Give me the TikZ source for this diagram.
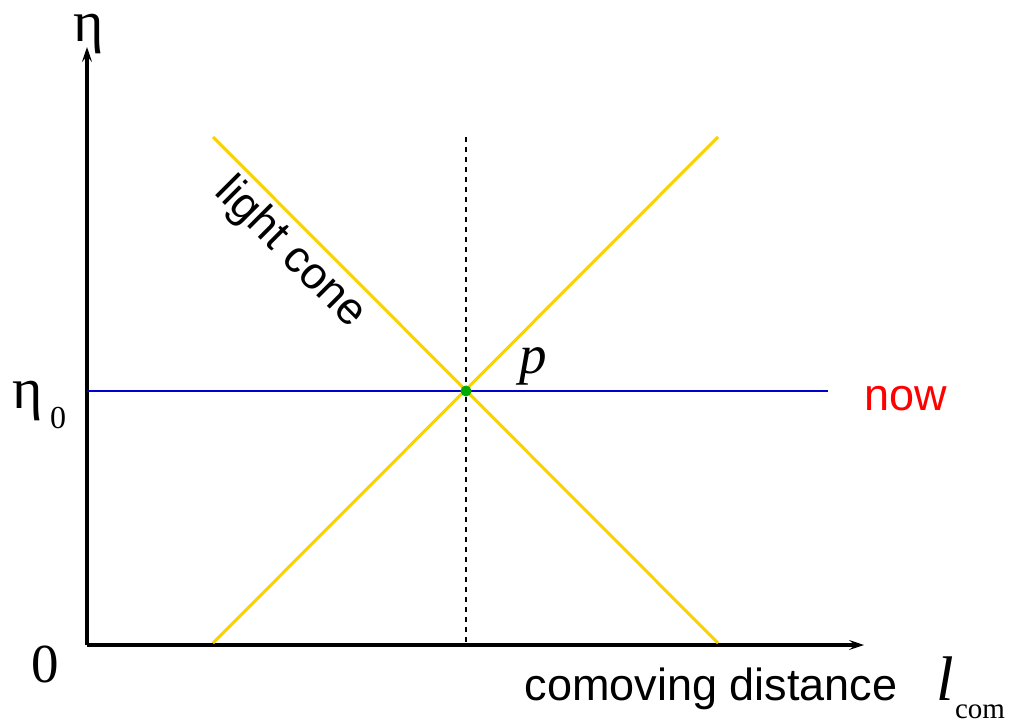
\documentclass[tikz,border=0pt]{standalone}
\usepackage{fontspec}
\setmainfont{Liberation Serif}
\newfontfamily\arialfont{Liberation Sans}
\usetikzlibrary{arrows.meta}
\definecolor{conecol}{RGB}{250,210,0}
\definecolor{nowblue}{RGB}{0,0,205}
\definecolor{ptgreen}{RGB}{0,170,0}
\begin{document}
\begin{tikzpicture}[x=1pt, y=-1pt,
    ax/.style={line width=3.5pt, -{Stealth[length=15pt, width=10pt, inset=6pt]}},
    cone/.style={draw=conecol, line width=3pt},
    sflbl/.style={font=\arialfont\fontsize{45}{50}\selectfont, inner sep=0pt},
    rmlbl/.style={inner sep=0pt, anchor=base}]
  \useasboundingbox (0,0) rectangle (1010,720);
  % axes
  \coordinate (o) at (87,645);
  \coordinate (ytop) at (87,47);
  \coordinate (xend) at (864,645);
  \draw[ax] (o) -- (ytop);
  \draw[ax] (o) -- (xend);
  % now line and event p
  \coordinate (nowl) at (87,391);
  \coordinate (nowr) at (828,391);
  \coordinate (p) at (466,391);
  \coordinate (dtop) at (466,137);
  \coordinate (dbot) at (466,645);
  \draw[nowblue, line width=2.5pt] (nowl) -- (nowr);
  \draw[line width=2.3pt, dash pattern=on 5pt off 5pt] (dtop) -- (dbot);
  % light cone
  \coordinate (ctl) at (213,137);
  \coordinate (cbr) at (718,643);
  \coordinate (cbl) at (213,643);
  \coordinate (ctr) at (718,137);
  \draw[cone] (ctl) -- (cbr);
  \draw[cone] (cbl) -- (ctr);
  \fill[ptgreen] (p) circle (5.5);
  % labels
  \node[rmlbl, font=\fontsize{58}{60}\selectfont] (eta) at (89,41) {η};
  \node[rmlbl, font=\fontsize{58}{60}\selectfont] (eta0) at (28,408) {η};
  \node[rmlbl, font=\fontsize{32}{34}\selectfont] (eta0sub) at (58,428) {0};
  \node[rmlbl, font=\fontsize{55}{58}\selectfont] (zero) at (45,682) {0};
  \node[rmlbl, font=\fontsize{55}{58}\selectfont\itshape] (plbl) at (533,373) {p};
  \node[sflbl, anchor=base, text=red] (now) at (906,410) {now};
  \node[sflbl, rotate=-45] (conelbl) at (290,253) {light cone};
  \node[sflbl, anchor=base] (comov) at (711,700) {comoving distance};
  \node[rmlbl, font=\fontsize{63}{66}\selectfont\itshape] (lsym) at (945,700) {l};
  \node[rmlbl, font=\fontsize{29}{32}\selectfont] (lsub) at (980,718) {com};
\end{tikzpicture}
\end{document}
